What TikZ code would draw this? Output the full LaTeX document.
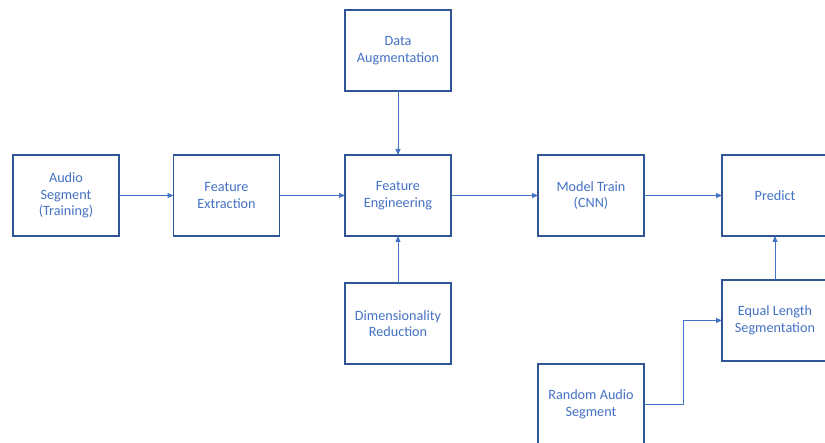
\documentclass[tikz,border=0pt]{standalone}
\usepackage{fontspec}
\setmainfont{Carlito}
\usetikzlibrary{arrows.meta}
\definecolor{boxline}{HTML}{2F5597}
\definecolor{txt}{HTML}{4472C4}
\definecolor{conn}{HTML}{4472C4}
\begin{document}
\begin{tikzpicture}[x=1pt,y=-1pt,
  stage/.style={draw=boxline, line width=1.1pt, fill=white, text=txt,
    minimum width=106pt, minimum height=81pt, inner sep=0pt, outer sep=0pt,
    align=center, font=\fontsize{14.2}{16.5}\selectfont},
  flow/.style={draw=conn, line width=0.8pt, -{Triangle[length=6pt,width=5pt]}}]
\useasboundingbox (0,0) rectangle (825,443);
\clip (0,0) rectangle (825,443);
% processing stages
\node[stage] (audio)  at (66,195.5)  {Audio\\Segment\\(Training)};
\node[stage] (fext)   at (226.5,195.5) {Feature\\Extraction};
\node[stage] (feng)   at (398,195.5) {Feature\\Engineering};
\node[stage] (aug)    at (398,50.5)  {Data\\Augmentation};
\node[stage] (dimred) at (398,323.5) {Dimensionality\\Reduction};
\node[stage] (train)  at (591,195.5) {Model Train\\(CNN)};
\node[stage] (pred)   at (775,195.5) {Predict};
\node[stage] (eqseg)  at (775,320.5) {Equal Length\\Segmentation};
\node[stage] (rand)   at (591,404.5) {Random Audio\\Segment};
% connectors
\draw[flow] (audio) -- (fext);
\draw[flow] (fext) -- (feng);
\draw[flow] (aug) -- (feng);
\draw[flow] (dimred) -- (feng);
\draw[flow] (feng) -- (train);
\draw[flow] (train) -- (pred);
\draw[flow] (eqseg) -- (pred);
\draw[flow] (rand.east) -- (683,404.5) |- (eqseg.west);
\end{tikzpicture}
\end{document}
